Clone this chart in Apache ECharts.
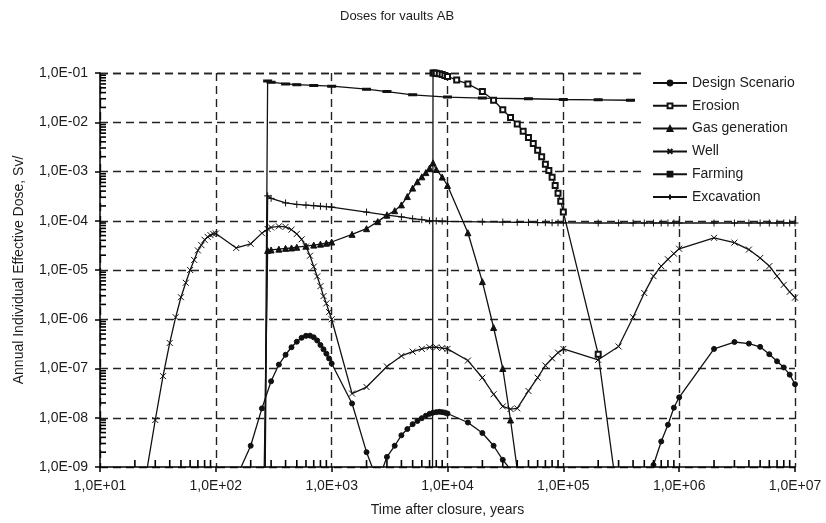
<!DOCTYPE html>
<html>
<head>
<meta charset="utf-8">
<script src="https://cdn.jsdelivr.net/npm/echarts@6/dist/echarts.min.js"></script>
<style>
  html, body { margin: 0; padding: 0; background: #fff; }
  #chart { width: 826px; height: 523px; }
</style>
</head>
<body>
<div id="chart"></div>
<script>
// Time after closure (years) and annual dose (Sv/y) per scenario.
// Values below 1E-09 only carry the curves off the bottom edge.
const designT = [150, 200, 250, 300, 350, 400, 450, 500, 550, 600, 650, 700, 750, 800, 850, 900, 950, 1000,
  1500, 2000, 2500, 3000, 3500, 4000, 4500, 5000, 5500, 6000, 6500, 7000, 7500, 8000, 8500, 9000, 9500, 10000,
  15000, 20000, 25000, 30000, 40000, 500000, 600000, 700000, 800000, 900000, 1e6, 2e6, 3e6, 4e6, 5e6, 6e6, 7e6, 8e6, 9e6, 1e7];
const designDose = [6e-10, 2.7e-9, 1.55e-8, 5.5e-8, 1.2e-7, 1.9e-7, 2.7e-7, 3.5e-7, 4.2e-7, 4.6e-7, 4.65e-7, 4.3e-7, 3.7e-7, 3.0e-7, 2.45e-7, 2.0e-7, 1.6e-7, 1.26e-7,
  1.95e-8, 2.0e-9, 5e-10, 1.6e-9, 2.7e-9, 4.4e-9, 5.9e-9, 7.4e-9, 8.6e-9, 9.8e-9, 1.1e-8, 1.2e-8, 1.27e-8, 1.3e-8, 1.32e-8, 1.3e-8, 1.27e-8, 1.22e-8,
  8.0e-9, 4.9e-9, 2.7e-9, 1.4e-9, 6e-10, 1e-12, 1.1e-9, 3.3e-9, 7.2e-9, 1.6e-8, 2.6e-8, 2.5e-7, 3.45e-7, 3.2e-7, 2.75e-7, 1.95e-7, 1.4e-7, 1.05e-7, 7.5e-8, 4.8e-8];

const erosionT = [7400, 7500, 7700, 8000, 8500, 9000, 9500, 10000, 12000, 15000, 20000, 25000, 30000, 35000, 40000,
  45000, 50000, 55000, 60000, 65000, 70000, 75000, 80000, 85000, 90000, 95000, 100000, 200000, 300000];
const erosionDose = [1e-12, 1.0e-1, 1.0e-1, 9.9e-2, 9.6e-2, 9.3e-2, 8.9e-2, 8.5e-2, 7.2e-2, 6.0e-2, 4.2e-2, 2.8e-2, 1.8e-2, 1.25e-2, 9.2e-3,
  6.6e-3, 4.9e-3, 3.7e-3, 2.7e-3, 2.0e-3, 1.4e-3, 1.05e-3, 7.6e-4, 5.2e-4, 3.6e-4, 2.5e-4, 1.5e-4, 1.95e-7, 1.7e-10];

const gasT = [250, 280, 300, 350, 400, 450, 500, 600, 700, 800, 900, 1000, 1500, 2000, 2500, 3000, 3500, 4000, 4500,
  5000, 5500, 6000, 6500, 7000, 7500, 8000, 9000, 10000, 15000, 20000, 25000, 30000, 35000, 40000, 45000];
const gasDose = [1e-12, 2.5e-5, 2.55e-5, 2.65e-5, 2.75e-5, 2.8e-5, 2.9e-5, 3.05e-5, 3.2e-5, 3.35e-5, 3.5e-5, 3.7e-5, 5.3e-5, 6.9e-5, 9.6e-5, 1.3e-4, 1.6e-4, 2.1e-4, 3.1e-4,
  4.6e-4, 6.2e-4, 7.8e-4, 9.5e-4, 1.17e-3, 1.5e-3, 1.1e-3, 7.7e-4, 5.2e-4, 5.7e-5, 5.8e-6, 6.8e-7, 1.0e-7, 9e-9, 9e-10, 1e-11];

const wellT = [25, 30, 35, 40, 45, 50, 55, 60, 65, 70, 75, 80, 85, 90, 95, 100, 150, 200, 250, 280, 300, 350, 400, 450, 500,
  550, 600, 650, 700, 750, 800, 850, 900, 950, 1000, 1500, 2000, 3000, 4000, 5000, 6000, 7000, 8000, 9000, 10000,
  15000, 20000, 25000, 30000, 35000, 40000, 50000, 60000, 70000, 80000, 90000, 100000, 200000, 300000, 400000, 500000,
  600000, 700000, 800000, 900000, 1e6, 2e6, 3e6, 4e6, 5e6, 6e6, 7e6, 8e6, 9e6, 1e7];
const wellDose = [7e-10, 9e-9, 7e-8, 3.3e-7, 1.1e-6, 2.8e-6, 5.5e-6, 1.0e-5, 1.6e-5, 2.5e-5, 3.2e-5, 4.1e-5, 4.7e-5, 5.1e-5, 5.4e-5, 5.5e-5, 2.8e-5, 3.4e-5, 5.6e-5, 6.8e-5, 7.3e-5, 7.7e-5, 7.5e-5, 6.6e-5, 5.4e-5,
  4.2e-5, 3.0e-5, 1.95e-5, 1.17e-5, 7.4e-6, 4.7e-6, 2.95e-6, 2.1e-6, 1.4e-6, 1.0e-6, 3.1e-8, 4.2e-8, 1.1e-7, 1.8e-7, 2.2e-7, 2.5e-7, 2.7e-7, 2.7e-7, 2.6e-7, 2.5e-7,
  1.45e-7, 6.5e-8, 3.0e-8, 1.7e-8, 1.5e-8, 1.55e-8, 3.5e-8, 6.5e-8, 1.15e-7, 1.6e-7, 2.1e-7, 2.5e-7, 1.5e-7, 2.8e-7, 1.1e-6, 3.4e-6,
  7.5e-6, 1.2e-5, 1.65e-5, 2.15e-5, 2.7e-5, 4.5e-5, 3.6e-5, 2.6e-5, 1.75e-5, 1.2e-5, 7.5e-6, 5.0e-6, 3.6e-6, 2.75e-6];

const farmT = [260, 280, 300, 400, 500, 700, 1000, 2000, 3000, 5000, 10000, 20000, 50000, 100000, 200000, 380000];
const farmDose = [1e-12, 6.9e-2, 6.5e-2, 6.0e-2, 5.8e-2, 5.6e-2, 5.4e-2, 4.7e-2, 4.2e-2, 3.6e-2, 3.25e-2, 3.1e-2, 3.0e-2, 2.9e-2, 2.85e-2, 2.8e-2];

const excT = [260, 280, 300, 400, 500, 600, 700, 800, 900, 1000, 2000, 3000, 4000, 5000, 6000, 7000, 8000, 9000, 10000,
  20000, 30000, 40000, 50000, 60000, 70000, 80000, 90000, 100000, 200000, 300000, 400000, 500000, 600000, 700000, 800000, 900000,
  1e6, 2e6, 3e6, 4e6, 5e6, 6e6, 7e6, 8e6, 9e6, 1e7];
const excDose = [1e-12, 3.2e-4, 2.85e-4, 2.3e-4, 2.15e-4, 2.08e-4, 2.02e-4, 1.97e-4, 1.93e-4, 1.9e-4, 1.5e-4, 1.3e-4, 1.2e-4, 1.1e-4, 1.05e-4, 1.0e-4, 9.9e-5, 9.8e-5, 9.7e-5,
  9.5e-5, 9.4e-5, 9.3e-5, 9.25e-5, 9.2e-5, 9.15e-5, 9.1e-5, 9.1e-5, 9.05e-5, 9.0e-5, 9.0e-5, 9.0e-5, 9.0e-5, 9.0e-5, 9.0e-5, 9.0e-5, 9.0e-5,
  9.0e-5, 9.0e-5, 9.0e-5, 9.0e-5, 9.0e-5, 9.0e-5, 9.0e-5, 9.0e-5, 9.0e-5, 9.0e-5];

const seriesNames = ['Design Scenario', 'Erosion', 'Gas generation', 'Well', 'Farming', 'Excavation'];

// Axis ticks and their printed labels
const xTicks = [1e1, 1e2, 1e3, 1e4, 1e5, 1e6, 1e7];
const xTickLabels = ['1,0E+01', '1,0E+02', '1,0E+03', '1,0E+04', '1,0E+05', '1,0E+06', '1,0E+07'];
const yTicks = [1e-9, 1e-8, 1e-7, 1e-6, 1e-5, 1e-4, 1e-3, 1e-2, 1e-1];
const yTickLabels = ['1,0E-09', '1,0E-08', '1,0E-07', '1,0E-06', '1,0E-05', '1,0E-04', '1,0E-03', '1,0E-02', '1,0E-01'];
const minorMantissa = [2, 3, 4, 5, 6, 7, 8, 9];

const FONT = 'Arial, "Liberation Sans", sans-serif';
const INK = '#1c1c1c';

function pairs(t, v) { return t.map((x, i) => [x, v[i]]); }
function labelFor(ticks, labels, value) {
  let best = 0;
  for (let i = 1; i < ticks.length; i++) {
    if (Math.abs(Math.log10(ticks[i] / value)) < Math.abs(Math.log10(ticks[best] / value))) best = i;
  }
  return labels[best];
}

const X_MIN = xTicks[0], Y_MIN = yTicks[0];

// Log-decade minor tick positions (2..9 in every decade), each sitting on its axis line
const xMinor = [], yMinor = [];
xTicks.slice(0, -1).forEach(d => minorMantissa.forEach(m => xMinor.push([d * m, Y_MIN])));
yTicks.slice(0, -1).forEach(d => minorMantissa.forEach(m => yMinor.push([X_MIN, d * m])));

const CROSS = 'path://M0,0L10,10M10,0L0,10';
const PLUS = 'path://M5,0L5,10M0,5L10,5';

function lineSeries(name, t, v, symbol, size) {
  return {
    name: name,
    type: 'line',
    data: pairs(t, v),
    symbol: symbol,
    symbolSize: size,
    showAllSymbol: true,
    clip: true,
    lineStyle: { color: '#111', width: 1.3 },
    itemStyle: { color: '#111', borderColor: '#111', borderWidth: 1 },
    emphasis: { disabled: true },
    z: 3
  };
}

// Minor ticks drawn as marker-only series (no connecting line)
function tickMarks(data, size, offset) {
  return {
    name: 'minor',
    type: 'line',
    data: data,
    symbol: 'rect',
    symbolSize: size,
    symbolOffset: offset,
    showSymbol: true,
    showAllSymbol: true,
    clip: false,
    silent: true,
    lineStyle: { color: '#000', width: 0.01, opacity: 0 },
    itemStyle: { color: '#000', borderColor: '#000', borderWidth: 0, opacity: 1 },
    emphasis: { disabled: true },
    z: 6
  };
}

const chart = echarts.init(document.getElementById('chart'), null, { renderer: 'canvas' });

chart.setOption({
  animation: false,
  backgroundColor: '#fff',
  title: {
    text: 'Doses for vaults AB',
    left: 335,
    top: 5,
    textStyle: { fontFamily: FONT, fontSize: 13, fontWeight: 'normal', color: INK }
  },
  legend: {
    data: seriesNames,
    orient: 'vertical',
    left: 644,
    top: 68,
    padding: [8, 8, 8, 8],
    itemWidth: 34,
    itemHeight: 6,
    itemGap: 8.8,
    backgroundColor: '#fff',
    textStyle: { fontFamily: FONT, fontSize: 14, color: INK, lineHeight: 14 },
    z: 10
  },
  grid: { left: 100, right: 31, top: 73, height: 394, containLabel: false },
  xAxis: {
    type: 'log',
    logBase: 10,
    min: X_MIN,
    max: xTicks[xTicks.length - 1],
    splitNumber: 6,
    name: 'Time after closure, years',
    nameLocation: 'middle',
    nameGap: 36,
    nameTextStyle: { fontFamily: FONT, fontSize: 14, color: INK },
    axisLine: { show: true, onZero: false, lineStyle: { color: '#000', width: 1.5 } },
    axisTick: { show: true, inside: false, length: 5, lineStyle: { color: '#000', width: 1.5 } },
    axisLabel: {
      margin: 12, fontFamily: FONT, fontSize: 14, color: INK,
      formatter: v => labelFor(xTicks, xTickLabels, v)
    },
    splitLine: { show: true, lineStyle: { color: '#222', width: 1.4, type: [8, 5] } }
  },
  yAxis: {
    type: 'log',
    logBase: 10,
    min: Y_MIN,
    max: yTicks[yTicks.length - 1],
    splitNumber: 8,
    name: 'Annual Individual Effective Dose, Sv/',
    nameLocation: 'middle',
    nameGap: 74,
    nameTextStyle: { fontFamily: FONT, fontSize: 14, color: INK },
    axisLine: { show: true, onZero: false, lineStyle: { color: '#000', width: 1.5 } },
    axisTick: { show: true, inside: false, length: 5, lineStyle: { color: '#000', width: 1.5 } },
    axisLabel: {
      margin: 12, fontFamily: FONT, fontSize: 14, color: INK,
      formatter: v => labelFor(yTicks, yTickLabels, v)
    },
    splitLine: { show: true, lineStyle: { color: '#222', width: 1.4, type: [8, 5] } }
  },
  series: [
    lineSeries('Design Scenario', designT, designDose, 'circle', 5),
    lineSeries('Erosion', erosionT, erosionDose, 'emptyRect', 5),
    lineSeries('Gas generation', gasT, gasDose, 'triangle', 6),
    lineSeries('Well', wellT, wellDose, CROSS, 6),
    lineSeries('Farming', farmT, farmDose, 'rect', [6, 2]),
    lineSeries('Excavation', excT, excDose, PLUS, 7),
    tickMarks(xMinor, [1.6, 7], [0, -3.5]),
    tickMarks(yMinor, [6, 1.6], [3, 0])
  ]
});
</script>
</body>
</html>
